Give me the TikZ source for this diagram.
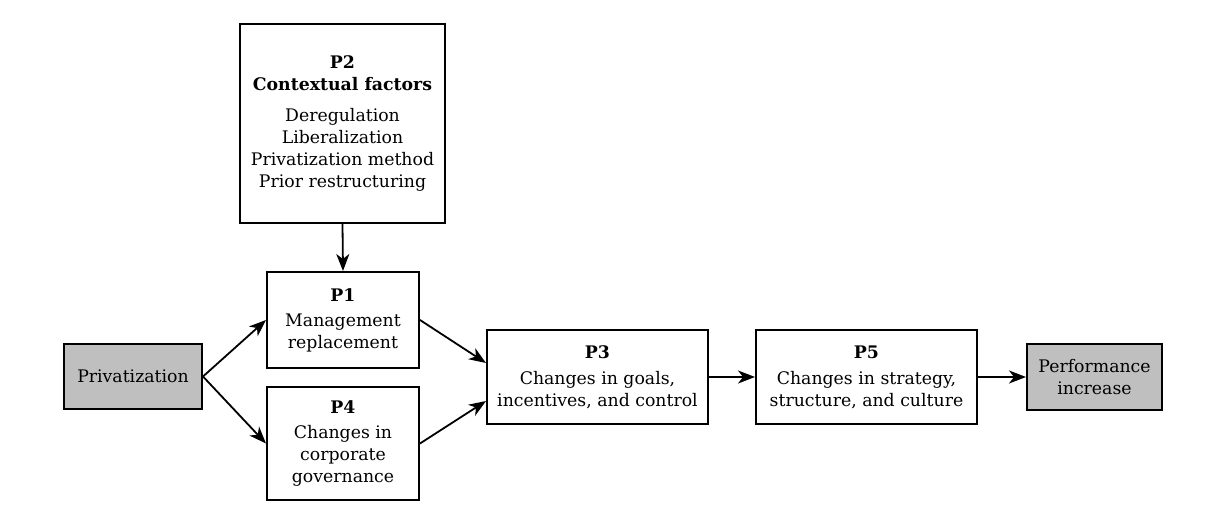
\documentclass[tikz,border=0pt]{standalone}
\usepackage{fontspec}
\setmainfont{DejaVu Serif}
\usetikzlibrary{arrows.meta}
\begin{document}
\begin{tikzpicture}[x=1pt,y=1pt,
  box/.style={draw=black,line width=2pt,rectangle,align=center,inner sep=0pt,
    font=\fontsize{17.3}{22}\selectfont},
  shaded/.style={box,fill=black!25},
  conn/.style={line width=1.8pt,-{Stealth[length=17pt,width=13pt,inset=5pt]}}]
\useasboundingbox (0,0) rectangle (1220,506);
\node[box,minimum width=205,minimum height=199] (p2) at (342.5,382.5)
  {\textbf{P2}\\\textbf{Contextual factors}\\[9pt]Deregulation\\Liberalization\\Privatization method\\Prior restructuring};
\node[box,minimum width=152,minimum height=96] (p1) at (343,186)
  {\textbf{P1}\\[3pt]Management\\replacement};
\node[box,minimum width=152,minimum height=113] (p4) at (343,62.5)
  {\textbf{P4}\\[3pt]Changes in\\corporate\\governance};
\node[shaded,minimum width=138,minimum height=65] (priv) at (133,129.5)
  {Privatization};
\node[box,minimum width=221,minimum height=94] (p3) at (597.5,129)
  {\textbf{P3}\\[4pt]Changes in goals,\\incentives, and control};
\node[box,minimum width=221,minimum height=94] (p5) at (866.5,129)
  {\textbf{P5}\\[4pt]Changes in strategy,\\structure, and culture};
\node[shaded,minimum width=135,minimum height=66] (perf) at (1094.5,129)
  {Performance\\increase};
\draw[conn] (p2.south) -- (p1.north);
\draw[conn] (priv.east) -- (p1.west);
\draw[conn] (priv.east) -- (p4.west);
\draw[conn] (p1.east) -- ([yshift=14pt]p3.west);
\draw[conn] (p4.east) -- ([yshift=-24pt]p3.west);
\draw[conn] (p3.east) -- (p5.west);
\draw[conn] (p5.east) -- (perf.west);
\end{tikzpicture}
\end{document}
